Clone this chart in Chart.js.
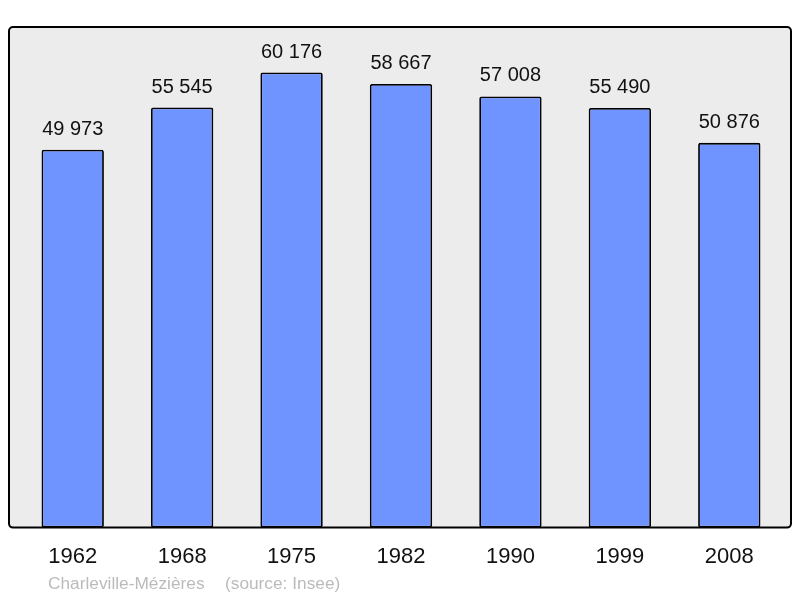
<!DOCTYPE html>
<html>
<head>
<meta charset="utf-8">
<script src="https://cdn.jsdelivr.net/npm/chart.js@4"></script>
<style>
  html, body { margin: 0; padding: 0; background: #fff; }
  #wrap { width: 800px; height: 598px; position: relative; }
</style>
</head>
<body>
<div id="wrap"><canvas id="myChart"></canvas></div>
<script>
// donnees
const annees = ['1962', '1968', '1975', '1982', '1990', '1999', '2008'];
const population = [49973, 55545, 60176, 58667, 57008, 55490, 50876];
const commune = 'Charleville-Mézières';
const source = '(source: Insee)';

function formater(n) {
  return String(n).replace(/\B(?=(\d{3})+(?!\d))/g, ' ');
}

// fond gris + cadre arrondi + etiquettes
const decor = {
  id: 'decor',
  beforeDraw(chart) {
    const { ctx, chartArea: a } = chart;
    const x0 = a.left - 9, x1 = a.right + 7, y0 = a.top, y1 = a.bottom;
    ctx.save();
    ctx.beginPath();
    ctx.roundRect(x0, y0, x1 - x0, y1 - y0, 4);
    ctx.fillStyle = '#ececec';
    ctx.fill();
    ctx.restore();
  },
  afterDatasetsDraw(chart) {
    const { ctx, chartArea: a } = chart;
    const x0 = a.left - 9, x1 = a.right + 7, y0 = a.top, y1 = a.bottom;
    ctx.save();
    ctx.beginPath();
    ctx.roundRect(x0, y0, x1 - x0, y1 - y0, 4);
    ctx.lineWidth = 2;
    ctx.strokeStyle = '#000';
    ctx.stroke();

    ctx.fillStyle = '#111';
    ctx.font = '20px "Liberation Sans", Arial, sans-serif';
    ctx.textAlign = 'center';
    ctx.textBaseline = 'alphabetic';
    chart.getDatasetMeta(0).data.forEach((bar, i) => {
      ctx.fillText(formater(population[i]), bar.x, bar.y - 15);
    });

    ctx.fillStyle = '#bbbbbb';
    ctx.font = '17.3px "Liberation Sans", Arial, sans-serif';
    ctx.textAlign = 'left';
    ctx.fillText(commune, 48, 589);
    ctx.fillText(source, 225, 589);
    ctx.restore();
  }
};

const ctx = document.getElementById('myChart').getContext('2d');
new Chart(ctx, {
  type: 'bar',
  data: {
    labels: annees,
    datasets: [{
      data: population,
      backgroundColor: '#7094ff',
      borderColor: '#000',
      borderWidth: 1.8,
      borderRadius: 2,
      borderSkipped: false,
      barPercentage: 0.57,
      categoryPercentage: 1
    }]
  },
  options: {
    responsive: true,
    maintainAspectRatio: false,
    animation: false,
    layout: { padding: { left: 18, right: 16, top: 27, bottom: 20 } },
    plugins: { legend: { display: false }, tooltip: { enabled: false } },
    scales: {
      x: {
        grid: { display: false },
        border: { display: false },
        ticks: {
          color: '#111',
          font: { size: 22, family: '"Liberation Sans", Arial, sans-serif' },
          padding: 8
        }
      },
      y: {
        display: false,
        min: 0,
        max: 66194
      }
    }
  },
  plugins: [decor]
});
</script>
</body>
</html>
